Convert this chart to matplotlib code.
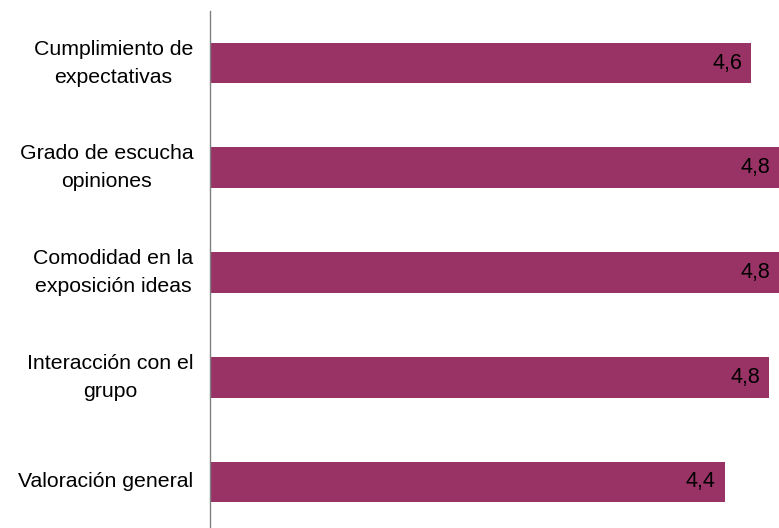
import matplotlib
matplotlib.use("Agg")
import matplotlib.pyplot as plt

categories = ["Cumplimiento de\nexpectativas", "Grado de escucha\nopiniones",
              "Comodidad en la\nexposición ideas", "Interacción con el\ngrupo",
              "Valoración general"]
values = [4.62, 4.86, 4.86, 4.77, 4.39]
labels = ["4,6", "4,8", "4,8", "4,8", "4,4"]

plt.rcParams['font.family'] = ['Liberation Sans', 'DejaVu Sans']

W, H = 779, 528
fig = plt.figure(figsize=(W / 100, H / 100), dpi=100)
left, right = 210, 210 + 5 * 117.2
top, bottom = 11, 528
ax = fig.add_axes([left / W, 1 - bottom / H, (right - left) / W, (bottom - top) / H])

pos = list(range(len(categories)))
ax.barh(pos, values, height=0.39, color="#993366")
ax.set_xlim(0, 5)
ax.set_ylim(4.44, -0.497)

for p, v, lab in zip(pos, values, labels):
    ax.text(v - 0.077, p, lab, ha="right", va="center", fontsize=15.5, color="black")

ax.set_yticks(pos)
ax.set_yticklabels(categories, fontsize=15.3, linespacing=1.6)
for t in ax.get_yticklabels():
    t.set_multialignment("center")
    t.set_verticalalignment("center")
ax.tick_params(axis="y", length=0, pad=12)
ax.set_xticks([])
for s in ["top", "right", "bottom"]:
    ax.spines[s].set_visible(False)
ax.spines["left"].set_color("#808080")
ax.spines["left"].set_linewidth(1.0)

fig.savefig("out.png", dpi=100)
